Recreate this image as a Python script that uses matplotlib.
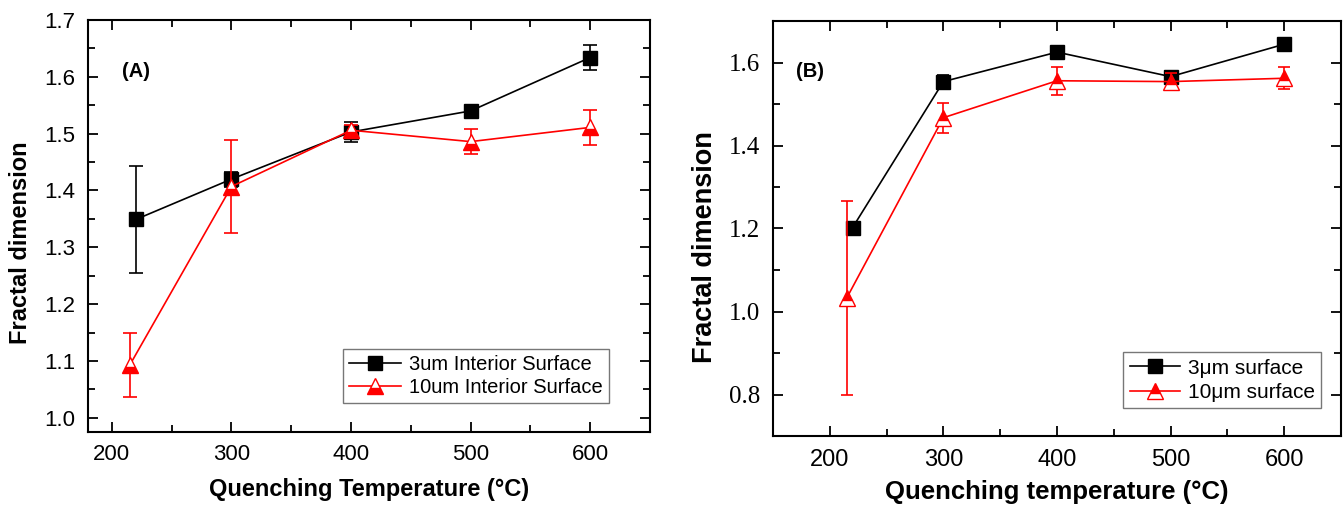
import matplotlib
matplotlib.use("Agg")
import matplotlib.pyplot as plt
from matplotlib.ticker import MultipleLocator, FormatStrFormatter
from matplotlib.lines import Line2D

plt.rcParams['font.family'] = ['Liberation Sans', 'DejaVu Sans']

# Panel A data
xa_3 = [220, 300, 400, 500, 600]
ya_3 = [1.349, 1.420, 1.503, 1.540, 1.634]
ea_3 = [0.094, 0.013, 0.017, 0.005, 0.022]
xa_10 = [215, 300, 400, 500, 600]
ya_10 = [1.093, 1.407, 1.506, 1.486, 1.511]
ea_10 = [0.057, 0.081, 0.010, 0.022, 0.031]

# Panel B data
xb_3 = [220, 300, 400, 500, 600]
yb_3 = [1.202, 1.554, 1.625, 1.566, 1.644]
eb_3 = [0.0, 0.017, 0.006, 0.010, 0.006]
xb_10 = [215, 300, 400, 500, 600]
yb_10 = [1.033, 1.467, 1.556, 1.554, 1.562]
eb_10 = [0.233, 0.036, 0.034, 0.020, 0.026]

labels_a = ["3um Interior Surface", "10um Interior Surface"]
labels_b = ["3\u03bcm surface", "10\u03bcm surface"]

fig = plt.figure(figsize=(13.43, 5.08), dpi=100)
W, H = 1343, 508
axA = fig.add_axes([88 / W, 1 - 432 / H, (650 - 88) / W, (432 - 20) / H])
axB = fig.add_axes([773 / W, 1 - 436 / H, (1341 - 773) / W, (436 - 21) / H])

red_style_a = dict(color='red', marker='^', ms=12, lw=1.2, fillstyle='bottom',
                   markerfacecoloralt='white', mec='red', mfc='red')
red_style_b = dict(color='red', marker='^', ms=12, lw=1.2, fillstyle='top',
                   markerfacecoloralt='white', mec='red', mfc='red')
blk_style = dict(color='black', marker='s', ms=10, lw=1.2)

# ---- Panel A
axA.errorbar(xa_3, ya_3, yerr=ea_3, capsize=5, elinewidth=1.2, capthick=1.2,
             zorder=3, **blk_style)
axA.errorbar(xa_10, ya_10, yerr=ea_10, capsize=5, elinewidth=1.2, capthick=1.2,
             zorder=4, **red_style_a)
axA.set_xlim(180, 650)
axA.set_ylim(0.975, 1.70)
axA.xaxis.set_major_locator(MultipleLocator(100))
axA.xaxis.set_minor_locator(MultipleLocator(50))
axA.yaxis.set_major_locator(MultipleLocator(0.1))
axA.yaxis.set_minor_locator(MultipleLocator(0.05))
axA.tick_params(which='both', direction='in', top=True, right=True, width=1.3)
axA.tick_params(which='major', length=7, labelsize=16, pad=9)
axA.tick_params(which='minor', length=5)
axA.yaxis.set_major_formatter(FormatStrFormatter('%.1f'))
for s in axA.spines.values():
    s.set_linewidth(1.5)
axA.set_xlabel("Quenching Temperature (\u00b0C)", fontsize=17, fontweight='bold', labelpad=9)
axA.set_ylabel("Fractal dimension", fontsize=17, fontweight='bold')
axA.yaxis.set_label_coords(-0.1, 0.46)
axA.text(220, 1.609, "(A)", fontsize=14.5, fontweight='bold', ha='center', va='center')
hA = [Line2D([], [], **blk_style), Line2D([], [], **red_style_a)]
legA = axA.legend(hA, labels_a, loc='lower right', bbox_to_anchor=(0.927, 0.07),
                  borderaxespad=0, fontsize=14.5, frameon=True, fancybox=False,
                  edgecolor='#555555', handlelength=2.6, borderpad=0.3,
                  labelspacing=0.2, handletextpad=0.4)
legA.get_frame().set_linewidth(1.0)

# ---- Panel B
axB.errorbar(xb_3, yb_3, yerr=eb_3, capsize=4, elinewidth=1.2, capthick=1.2,
             zorder=3, **blk_style)
axB.errorbar(xb_10, yb_10, yerr=eb_10, capsize=4, elinewidth=1.2, capthick=1.2,
             zorder=4, **red_style_b)
axB.set_xlim(150, 650)
axB.set_ylim(0.70, 1.70)
axB.xaxis.set_major_locator(MultipleLocator(100))
axB.xaxis.set_minor_locator(MultipleLocator(50))
axB.yaxis.set_major_locator(MultipleLocator(0.2))
axB.yaxis.set_minor_locator(MultipleLocator(0.1))
axB.tick_params(which='both', direction='in', top=True, right=True, width=1.3)
axB.tick_params(which='major', length=7, labelsize=17, pad=9)
axB.tick_params(which='minor', length=5)
axB.yaxis.set_major_formatter(FormatStrFormatter('%.1f'))
for lab in axB.get_yticklabels():
    lab.set_fontfamily(['Liberation Serif', 'DejaVu Serif'])
    lab.set_fontsize(18)
for s in axB.spines.values():
    s.set_linewidth(1.5)
axB.set_xlabel("Quenching temperature (\u00b0C)", fontsize=18.5, fontweight='bold', labelpad=7)
axB.set_ylabel("Fractal dimension", fontsize=19.5, fontweight='bold')
axB.yaxis.set_label_coords(-0.097, 0.455)
axB.text(183, 1.578, "(B)", fontsize=14.5, fontweight='bold', ha='center', va='center')
hB = [Line2D([], [], **blk_style), Line2D([], [], **red_style_b)]
legB = axB.legend(hB, labels_b, loc='lower right', bbox_to_anchor=(0.965, 0.067),
                  borderaxespad=0, fontsize=15, frameon=True, fancybox=False,
                  edgecolor='#555555', handlelength=2.4, borderpad=0.3,
                  labelspacing=0.25, handletextpad=0.4)
legB.get_frame().set_linewidth(1.0)

fig.savefig("out.png", dpi=100)
